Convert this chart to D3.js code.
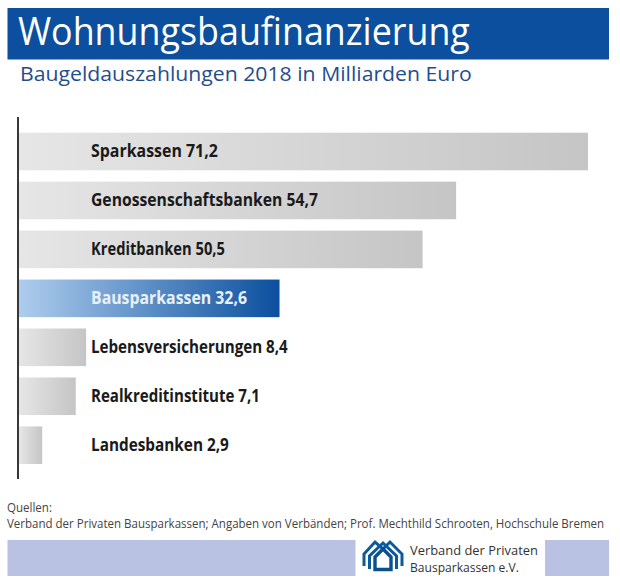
<!DOCTYPE html>
<html>
<head>
<meta charset="utf-8">
<script src="https://cdn.jsdelivr.net/npm/d3@7"></script>
<style>
  html, body { margin: 0; padding: 0; background: #fff; }
  svg { display: block; }
  text { font-family: "Open Sans", sans-serif; }
</style>
</head>
<body>
<svg id="chart" width="620" height="586"></svg>
<script>
const categories = ["Sparkassen", "Genossenschaftsbanken", "Kreditbanken", "Bausparkassen", "Lebensversicherungen", "Realkreditinstitute", "Landesbanken"];
const values = [71.2, 54.7, 50.5, 32.6, 8.4, 7.1, 2.9];
const labelWidths = [127, 227, 134, 156, 197, 169, 138];
const highlighted = "Bausparkassen";

const svg = d3.select("#chart");
const blue = "#0b4f9e";

const defs = svg.append("defs");
function gradient(id, from, to) {
  const g = defs.append("linearGradient").attr("id", id);
  g.append("stop").attr("offset", 0).attr("stop-color", from);
  g.append("stop").attr("offset", 1).attr("stop-color", to);
}
gradient("grayBar", "#e6e6e6", "#c5c5c5");
gradient("blueBar", "#aecdee", "#0b4f9e");

// the original face is condensed, so squeeze each text to its measured width
function fitText(parent, str, px, py, width, size, fill, weight) {
  const t = parent.append("text")
    .attr("font-size", size).attr("fill", fill).attr("font-weight", weight || 400)
    .text(str);
  const sx = width / t.node().getComputedTextLength();
  t.attr("transform", `translate(${px},${py}) scale(${sx},1)`);
  return t;
}

const x = d3.scaleLinear().domain([0, 71.2]).range([19, 588]);
const y = d3.scaleBand().domain(categories).range([132.7, 464]).paddingInner(0.232).paddingOuter(0);

// header
svg.append("rect").attr("x", 7.5).attr("y", 8).attr("width", 601.5).attr("height", 51.5).attr("fill", blue);
fitText(svg, "Wohnungsbaufinanzierung", 18, 45, 452, 38, "#fff");
fitText(svg, "Baugeldauszahlungen 2018 in Milliarden Euro", 20, 81, 452, 20, "#1f4e8c", 500);

// bars
svg.append("g").selectAll("rect").data(categories).join("rect")
  .attr("x", x(0))
  .attr("y", d => y(d))
  .attr("width", (d, i) => x(values[i]) - x(0))
  .attr("height", y.bandwidth())
  .attr("fill", d => d === highlighted ? "url(#blueBar)" : "url(#grayBar)");

const labels = svg.append("g");
categories.forEach((d, i) => {
  fitText(labels, `${d} ${String(values[i]).replace(".", ",")}`, 91, y(d) + 24.7, labelWidths[i], 17.5,
    d === highlighted ? "#e8f0fa" : "#1a1a1a", 700);
});

// axis line
svg.append("line").attr("x1", 18).attr("x2", 18).attr("y1", 117).attr("y2", 479)
  .attr("stroke", "#222").attr("stroke-width", 1.8);

// sources
fitText(svg, "Quellen:", 7, 512, 45, 12, "#444");
fitText(svg, "Verband der Privaten Bausparkassen; Angaben von Verbänden; Prof. Mechthild Schrooten, Hochschule Bremen", 7, 528, 598, 12, "#444");

// footer band
svg.append("rect").attr("x", 7.5).attr("y", 540).attr("width", 348).attr("height", 36).attr("fill", "#b9c2e2");
svg.append("rect").attr("x", 545).attr("y", 540).attr("width", 64).attr("height", 36).attr("fill", "#b9c2e2");

// logo: nested houses
const logo = svg.append("g").attr("fill", "none").attr("stroke", "#0b5a9e");
logo.append("path").attr("stroke-width", 3)
  .attr("d", "M364,566V554L375,542L383,549L390,542L402,554V566");
logo.append("path").attr("stroke-width", 3)
  .attr("d", "M369.5,569V556L383,543L396.5,556V569");
logo.append("path").attr("stroke-width", 3.4).attr("stroke", "#0b4f8e").attr("fill", "#fff")
  .attr("d", "M375,569.5V557L383,549L391,557V569.5Z");

fitText(svg, "Verband der Privaten", 410, 555, 128, 13.5, "#333");
fitText(svg, "Bausparkassen e.V.", 410, 572, 109, 13.5, "#333");
</script>
</body>
</html>
